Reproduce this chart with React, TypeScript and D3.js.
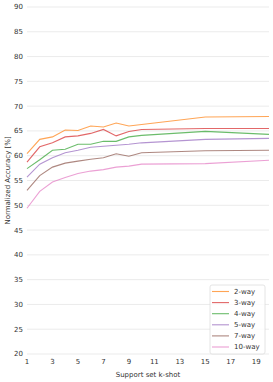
import { useEffect, useRef } from 'react';
import * as d3 from 'd3';

const shots = [1, 2, 3, 4, 5, 6, 7, 8, 9, 10, 15, 20];
const seriesNames = ['2-way', '3-way', '4-way', '5-way', '7-way', '10-way'];
const colors = ['#ff7f0e', '#d62728', '#2ca02c', '#9467bd', '#8c564b', '#e377c2'];

const way2 = [60.4, 63.3, 63.8, 65.2, 65.1, 66.0, 65.8, 66.6, 66.0, 66.3, 67.8, 67.9];
const way3 = [58.7, 61.8, 62.6, 63.8, 64.0, 64.5, 65.3, 64.0, 64.9, 65.3, 65.5, 65.5];
const way4 = [57.4, 59.2, 61.1, 61.3, 62.3, 62.3, 62.9, 62.9, 63.8, 64.1, 64.9, 64.3];
const way5 = [55.7, 58.3, 59.6, 60.6, 61.1, 61.7, 61.9, 62.1, 62.3, 62.6, 63.3, 63.5];
const way7 = [53.0, 56.0, 57.7, 58.5, 58.9, 59.3, 59.6, 60.4, 59.9, 60.6, 61.0, 61.1];
const way10 = [49.4, 52.8, 54.7, 55.6, 56.4, 56.9, 57.2, 57.7, 57.9, 58.3, 58.4, 59.1];
const allSeries = [way2, way3, way4, way5, way7, way10];

const xTicks = [1, 3, 5, 7, 9, 11, 13, 15, 17, 19];
const yTicks = [20, 25, 30, 35, 40, 45, 50, 55, 60, 65, 70, 75, 80, 85, 90];

export default function App() {
  const ref = useRef<SVGSVGElement>(null);

  useEffect(() => {
    document.body.style.margin = '0';
    const svg = d3.select(ref.current);
    svg.selectAll('*').remove();
    const width = 273, height = 382;
    const margin = { top: 7, right: 4, bottom: 28, left: 27 };
    const font = 'DejaVu Sans, sans-serif';

    const x = d3.scaleLinear().domain([1, 20]).range([margin.left, width - margin.right]);
    const y = d3.scaleLinear().domain([20, 90]).range([height - margin.bottom, margin.top]);

    // Grid
    svg.append('g').selectAll('line').data(yTicks).join('line')
      .attr('x1', x(1)).attr('x2', x(20))
      .attr('y1', d => y(d)).attr('y2', d => y(d))
      .style('stroke', '#ebebeb').style('stroke-width', 1);

    // Y tick labels
    svg.append('g').selectAll('text').data(yTicks).join('text')
      .attr('x', margin.left - 4).attr('y', d => y(d)).attr('dy', '0.35em')
      .attr('text-anchor', 'end')
      .style('font-family', font).style('font-size', '7px').style('fill', '#333')
      .text(d => d);

    // X tick labels
    svg.append('g').selectAll('text').data(xTicks).join('text')
      .attr('x', d => x(d)).attr('y', height - margin.bottom + 10)
      .attr('text-anchor', 'middle')
      .style('font-family', font).style('font-size', '7px').style('fill', '#333')
      .text(d => d);

    svg.append('text')
      .attr('x', (x(1) + x(20)) / 2).attr('y', height - 5)
      .attr('text-anchor', 'middle')
      .style('font-family', font).style('font-size', '7px').style('fill', '#333')
      .text('Support set k-shot');

    svg.append('text')
      .attr('transform', `translate(8,${(y(20) + y(90)) / 2}) rotate(-90)`)
      .attr('dy', '0.35em')
      .attr('text-anchor', 'middle')
      .style('font-family', font).style('font-size', '7px').style('fill', '#333')
      .text('Normalized Accuracy [%]');

    // Lines
    const line = d3.line<number>().x((_, i) => x(shots[i])).y(d => y(d));
    allSeries.forEach((vals, i) => {
      svg.append('path').datum(vals).attr('d', line)
        .style('fill', 'none').style('stroke', colors[i])
        .style('stroke-width', 1.1).style('opacity', 0.7);
    });

    // Legend
    const lg = svg.append('g').attr('transform', 'translate(210,285)');
    lg.append('rect').attr('width', 55).attr('height', 69).attr('rx', 2)
      .style('fill', 'white').style('fill-opacity', 0.85)
      .style('stroke', '#dddddd').style('stroke-width', 0.8);
    seriesNames.forEach((name, i) => {
      const ly = 6.5 + i * 11.1;
      lg.append('line').attr('x1', 2).attr('x2', 19).attr('y1', ly).attr('y2', ly)
        .style('stroke', colors[i]).style('stroke-width', 1.1).style('opacity', 0.7);
      lg.append('text').attr('x', 24).attr('y', ly).attr('dy', '0.35em')
        .style('font-family', font).style('font-size', '7px').style('fill', '#333')
        .text(name);
    });
  }, []);

  return <svg ref={ref} width={273} height={382} style={{ display: 'block' }} />;
}
